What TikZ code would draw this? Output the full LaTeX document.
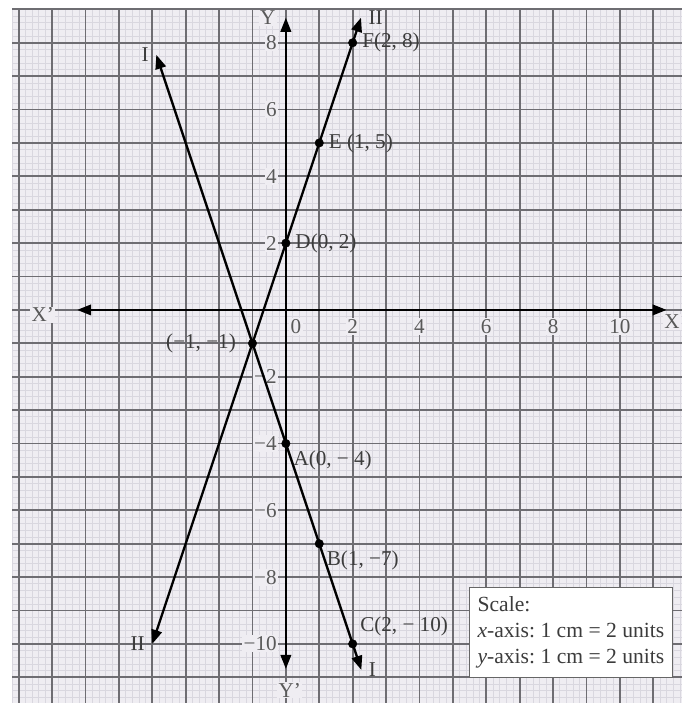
\documentclass[tikz,border=0pt]{standalone}
\usepackage{fontspec}
\setmainfont{Liberation Serif}
\usetikzlibrary{arrows.meta}
\definecolor{paper}{HTML}{EFEDF2}
\definecolor{fineline}{HTML}{D9D7DF}
\definecolor{cmline}{HTML}{6E6D72}
\definecolor{inkgray}{HTML}{3C3C3C}
\frenchspacing
\begin{document}
\begin{tikzpicture}[x=0.5cm,y=0.5cm,
	font=\fontsize{9}{10.5}\selectfont,
	pt/.style={ circle, draw, very thin, fill, inner sep=0pt, minimum size=3.6pt },
	ptlabel/.style={ text=inkgray, inner sep=1pt, label distance=1pt },
	linelabel/.style={ text=inkgray, inner sep=1pt, label distance=2pt },
	tick/.style={ text=black!65, fill=paper, inner sep=0.6pt },
	axis/.style={ line width=0.9pt, {Triangle[length=6pt,width=4.5pt]}-{Triangle[length=6pt,width=4.5pt]} },
	graphline/.style={ line width=1pt, {Triangle[length=6pt,width=4.5pt]}-{Triangle[length=6pt,width=4.5pt]} },
	scalebox/.style={ draw=black!60, fill=white, align=left, inner xsep=3.5pt, inner ysep=3pt, font=\fontsize{9.2}{11.2}\selectfont, text=inkgray }
]
\useasboundingbox (-8.56,-11.77) rectangle (11.86,9.28);

% graph paper
\fill[paper] (-8.2,-11.77) rectangle (11.86,9.05);
\draw[fineline, line width=0.25pt] (-8.2,-11.77) grid[step=0.2] (11.86,9.05);
\draw[cmline, line width=0.8pt] (-8.2,-11.77) grid[step=1] (11.86,9.05);

% axes
\coordinate (Xl) at (-6.25,0);
\coordinate (Xr) at (11.4,0);
\coordinate (Yt) at (0,8.75);
\coordinate (Yb) at (0,-10.75);
\draw[axis] (Xl) -- (Xr);
\draw[axis] (Yb) -- (Yt);
\node at (-7.28,-0.15) (xl) [tick] {X’};
\node at (11.56,-0.36) (xr) [tick] {X};
\node at (-0.54,8.74) (yt) [tick] {Y};
\node at (0.12,-11.38) (yb) [tick] {Y’};
\node at (0.3,-0.5) [tick] {0};
\foreach \x in {2,4,...,10} \node at (\x,-0.5) [tick] {\x};
\foreach \y in {2,4,6,8} \node at (-0.22,\y) [tick,anchor=east] {\y};
\foreach \y in {2,4,...,10} \node at (-0.22,-\y) [tick,anchor=east] {−\y};

% line I
\coordinate[label={[linelabel]left:I}] (Itop) at (-3.88,7.64);
\coordinate[label={[linelabel]right:I}] (Ibot) at (2.26,-10.78);
\draw[graphline] (Ibot) -- (Itop);
\node at (0,-4) (A) [pt,label={[ptlabel]below right:A(0, − 4)}] {};
\node at (1,-7) (B) [pt,label={[ptlabel]below right:B(1, −7)}] {};
\node at (2,-10) (C) [pt,label={[ptlabel]above right:C(2, − 10)}] {};

% line II
\coordinate[label={[linelabel]right:II}] (IItop) at (2.25,8.75);
\coordinate[label={[linelabel]left:II}] (IIbot) at (-4,-10);
\draw[graphline] (IIbot) -- (IItop);
\node at (0,2) (D) [pt,label={[ptlabel]right:D(0, 2)}] {};
\node at (1,5) (E) [pt,label={[ptlabel]right:E (1, 5)}] {};
\node at (2,8) (F) [pt,label={[ptlabel]right:F(2, 8)}] {};

% point of intersection
\node at (-1,-1) (P) [pt,label={[ptlabel,label distance=4pt]left:(−1, −1)}] {};

% scale
\node at (5.48,-8.29) (scale) [scalebox,anchor=north west,minimum height=1.35cm]
	{Scale:\\ \textit{x}-axis: 1 cm = 2 units\\ \textit{y}-axis: 1 cm = 2 units};

\end{tikzpicture}
\end{document}
